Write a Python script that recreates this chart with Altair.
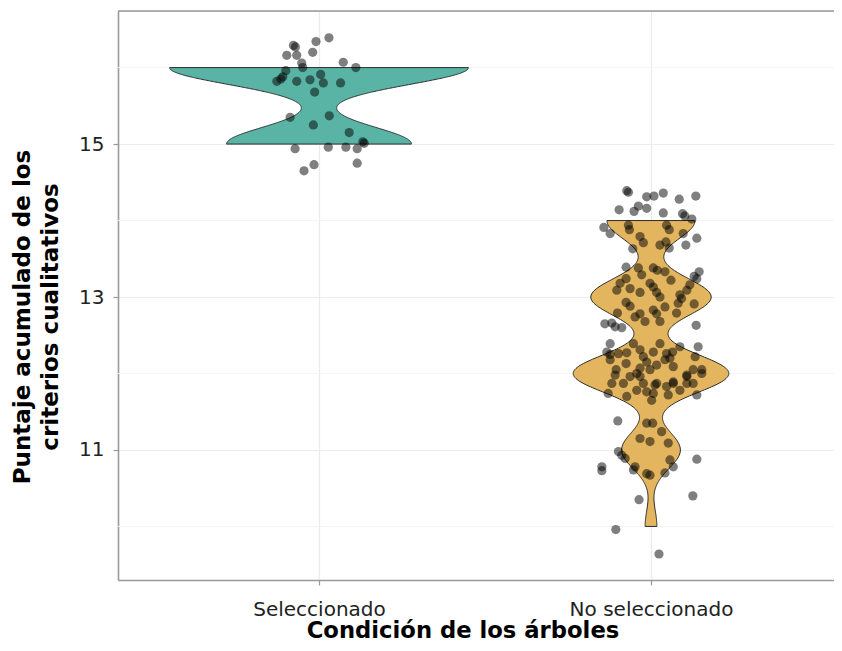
import altair as alt
import pandas as pd
import numpy as np

# ---------------- data ----------------
categorias = ["Seleccionado", "No seleccionado"]
posiciones = [1, 2]
colores = ["#5AB4A6", "#E3B55F"]
anchos_banda = [0.22, 0.245]          # kernel bandwidths of the two violins

# jittered points, group "Seleccionado": horizontal jitter (category units) and score
sel_dx = [-0.077, -0.071, -0.009, 0.030, -0.097, -0.067, -0.019, -0.052, -0.049, 0.073,
          0.111, -0.100, -0.109, -0.115, -0.127, -0.067, -0.027, 0.005, 0.013, 0.065,
          -0.013,
          -0.087, 0.031, -0.017, 0.091, 0.136, 0.132, -0.072, 0.028, 0.081, 0.115,
          -0.015, -0.045, 0.115]
sel_y = [16.29, 16.27, 16.34, 16.39, 16.16, 16.16, 16.20, 16.06, 16.00, 16.07,
         16.00, 15.96, 15.88, 15.85, 15.82, 15.82, 15.84, 15.91, 15.80, 15.80,
         15.68,
         15.35, 15.37, 15.25, 15.15, 15.01, 15.03, 14.94, 14.96, 14.96, 14.94,
         14.73, 14.65, 14.75]

# group "No seleccionado"
nosel_dx_14 = [-0.073, -0.068, -0.013, 0.009, 0.037, 0.085, 0.135, -0.096, -0.051, -0.038,
               -0.013, 0.037, 0.095, 0.102, 0.123, -0.142, -0.123, -0.068, -0.065, -0.033,
               -0.023, -0.055, 0.047, 0.055, 0.097, 0.138, 0.027, 0.045, 0.055, 0.105]
nosel_y_14 = [14.39, 14.37, 14.31, 14.32, 14.36, 14.28, 14.32, 14.14, 14.12, 14.19,
              14.16, 14.10, 14.09, 14.06, 14.02, 13.91, 13.83, 13.94, 13.88, 13.79,
              13.71, 13.63, 13.94, 13.88, 13.83, 13.77, 13.68, 13.72, 13.64, 13.68]
nosel_dx_13 = [-0.075, -0.038, 0.007, 0.019, 0.042, 0.130, 0.145, 0.138, -0.093, -0.075,
               -0.028, -0.103, -0.033, -0.003, 0.007, 0.017, 0.087, 0.108, 0.117, -0.075,
               -0.063, 0.027, -0.048, -0.033, -0.018, 0.007, 0.017, 0.042, 0.082, 0.092,
               0.130, -0.101, 0.077, 0.027, -0.139, -0.118, -0.108, -0.088, 0.136, -0.063,
               0.060]
nosel_y_13 = [13.39, 13.38, 13.38, 13.35, 13.33, 13.27, 13.33, 13.24, 13.18, 13.24,
              13.29, 13.09, 13.06, 13.18, 13.13, 13.06, 13.03, 13.09, 13.16, 12.93,
              12.88, 13.00, 12.74, 12.78, 12.68, 12.83, 12.78, 12.87, 12.92, 12.98,
              12.91, 12.79, 12.79, 12.68, 12.65, 12.66, 12.61, 12.60, 12.63, 13.11,
              13.22]
nosel_dx_12 = [-0.123, 0.142, -0.133, -0.123, -0.098, -0.073, -0.033, 0.007, 0.047, 0.065,
               0.087, 0.133, -0.123, -0.105, -0.075, -0.033, -0.013, 0.017, 0.042, 0.057,
               0.108, 0.127, 0.153, -0.043, -0.118, 0.017, 0.067, 0.108, -0.129, -0.108,
               -0.073, -0.043, -0.033, -0.023, -0.013, 0.002, 0.007, 0.012, 0.047, 0.052,
               0.067, 0.087, 0.108, 0.127, 0.138, 0.153, -0.023, -0.003, -0.063, 0.067,
               -0.083, -0.053, 0.027]
nosel_y_12 = [12.39, 12.35, 12.28, 12.25, 12.26, 12.27, 12.31, 12.28, 12.26, 12.28,
              12.35, 12.22, 12.18, 12.05, 12.13, 12.07, 12.15, 12.11, 12.18, 12.20,
              11.98, 12.05, 12.05, 12.00, 11.87, 11.87, 11.89, 11.87, 11.74, 11.98,
              11.70, 11.78, 11.96, 11.87, 11.76, 11.65, 11.74, 11.85, 11.83, 11.72,
              11.87, 11.78, 11.96, 11.87, 11.72, 12.00, 12.22, 12.05, 11.96, 12.09,
              11.87, 12.39, 12.39]
nosel_dx_11 = [-0.100, -0.013, 0.005, 0.032, -0.033, -0.003, 0.052, -0.098, -0.088, -0.078,
               0.057, 0.138, -0.148, -0.148, -0.053, -0.003, 0.042, 0.067, -0.048, -0.013]
nosel_y_11 = [11.38, 11.35, 11.35, 11.24, 11.15, 11.11, 11.09, 10.98, 10.93, 10.89,
              10.87, 10.88, 10.78, 10.73, 10.74, 10.67, 10.70, 10.78, 10.78, 10.69]
nosel_dx_10 = [-0.036, 0.126, -0.106, 0.024]
nosel_y_10 = [10.35, 10.40, 9.96, 9.64]

ticks_y = [11, 13, 15]
grid_menor_y = [10, 12, 14, 16]

# ---------------- table ----------------
nosel_dx = nosel_dx_14 + nosel_dx_13 + nosel_dx_12 + nosel_dx_11 + nosel_dx_10
nosel_y = nosel_y_14 + nosel_y_13 + nosel_y_12 + nosel_y_11 + nosel_y_10
grupos_dx = [sel_dx, nosel_dx]
grupos_y = [sel_y, nosel_y]

rows = []
for cat, pos, dxs, ys in zip(categorias, posiciones, grupos_dx, grupos_y):
    for dx, y in zip(dxs, ys):
        rows.append({"grupo": cat, "pos": pos, "dx": dx, "y": y})
df = pd.DataFrame(rows)

# violin width scaling (ggplot scale="area": widest violin gets 0.45 on each side)
def kde_max(vals, bw, lo, hi):
    g = np.linspace(lo, hi, 801)
    v = np.array(vals)[:, None]
    d = np.exp(-0.5 * ((g[None, :] - v) / bw) ** 2).sum(0) / (len(vals) * bw * np.sqrt(2 * np.pi))
    return d.max()

extents = []
maxes = []
for ys, bw in zip(grupos_y, anchos_banda):
    sc = np.round(ys)
    lo, hi = float(sc.min()), float(sc.max())
    extents.append([lo, hi])
    maxes.append(kde_max(sc, bw, lo, hi))
K = 0.45 / max(maxes)

# ---------------- chart ----------------
W, H = 716, 569
GRID = "#EBEBEB"
FRAME = "#9A9A9A"
FONT = "DejaVu Sans"

xscale = alt.Scale(domain=[0.3946, 2.5512], nice=False, zero=False)
yscale = alt.Scale(domain=[9.30, 16.74], nice=False, zero=False)

label_expr = " : ".join(
    f"datum.value == {p} ? '{c}'" for p, c in zip(posiciones[:-1], categorias[:-1])
) + f" : '{categorias[-1]}'"

xaxis = alt.Axis(
    values=posiciones, labelExpr=label_expr, grid=True, gridColor=GRID, gridWidth=1.2,
    domainColor=FRAME, domainWidth=1.6, tickColor=FRAME, tickWidth=1.2, tickSize=5,
    labelFont=FONT, labelFontSize=20, labelColor="#222222", labelBaseline="alphabetic",
    labelPadding=30, labelFlush=False, labelOverlap=False,
    titleFont=FONT, titleFontSize=22.7, titleFontWeight="bold", titleColor="#000000",
    titleX=344.5, titleY=57.5, titleAlign="center", titleBaseline="alphabetic",
)
yaxis = alt.Axis(
    values=ticks_y, format="d", grid=True, gridColor=GRID, gridWidth=1.2,
    domainColor=FRAME, domainWidth=1.6, tickColor=FRAME, tickWidth=1.2, tickSize=5,
    labelFont=FONT, labelFontSize=20, labelColor="#222222", labelPadding=9,
    titleFont=FONT, titleFontSize=23, titleFontWeight="bold", titleColor="#000000",
    titleAngle=270, titleX=-89, titleY=305.5, titleAlign="center",
    titleBaseline="alphabetic", titleLineHeight=28,
)
XT = "Condición de los árboles"
YT = ["Puntaje acumulado de los", "criterios cualitativos"]

def xenc(f):
    return alt.X(f"{f}:Q", scale=xscale, axis=xaxis, title=XT)

def yenc(f):
    return alt.Y(f"{f}:Q", scale=yscale, axis=yaxis, title=YT)

menor = alt.Chart(pd.DataFrame({"g": grid_menor_y})).mark_rule(
    color="#F3F3F3", strokeWidth=0.9
).encode(y=yenc("g"))

violines = []
for cat, col, bw, ext in zip(categorias, colores, anchos_banda, extents):
    v = (
        alt.Chart(df)
        .transform_filter(alt.datum.grupo == cat)
        .transform_calculate(score="round(datum.y)")
        .transform_density("score", groupby=["pos"], as_=["valor", "dens"],
                           bandwidth=bw, extent=ext, steps=300)
        .transform_calculate(xl=f"datum.pos - datum.dens * {K}",
                             xr=f"datum.pos + datum.dens * {K}")
        .mark_area(orient="horizontal", fill=col, fillOpacity=1,
                   stroke="#2b2b2b", strokeWidth=1.0)
        .encode(y=yenc("valor"), x=xenc("xl"), x2="xr:Q")
    )
    violines.append(v)

puntos = (
    alt.Chart(df)
    .transform_calculate(xp="datum.pos + datum.dx")
    .mark_circle(size=85, color="#000000", opacity=0.5)
    .encode(x=xenc("xp"), y=yenc("y"))
)

borde = alt.Chart(pd.DataFrame({"b": [0]})).mark_rule(
    color=FRAME, strokeWidth=1.6
).encode(y=alt.value(0), x=alt.value(0), x2=alt.value(W))

chart = (
    alt.layer(menor, *violines, puntos, borde)
    .properties(width=W, height=H,
                padding={"left": 110, "top": 3, "right": 0, "bottom": 63},
                autosize=alt.AutoSizeParams(type="none"))
    .configure_view(stroke=None)
    .configure(background="white")
)

chart.save("out.html", embed_options={"renderer": "svg", "actions": False})
